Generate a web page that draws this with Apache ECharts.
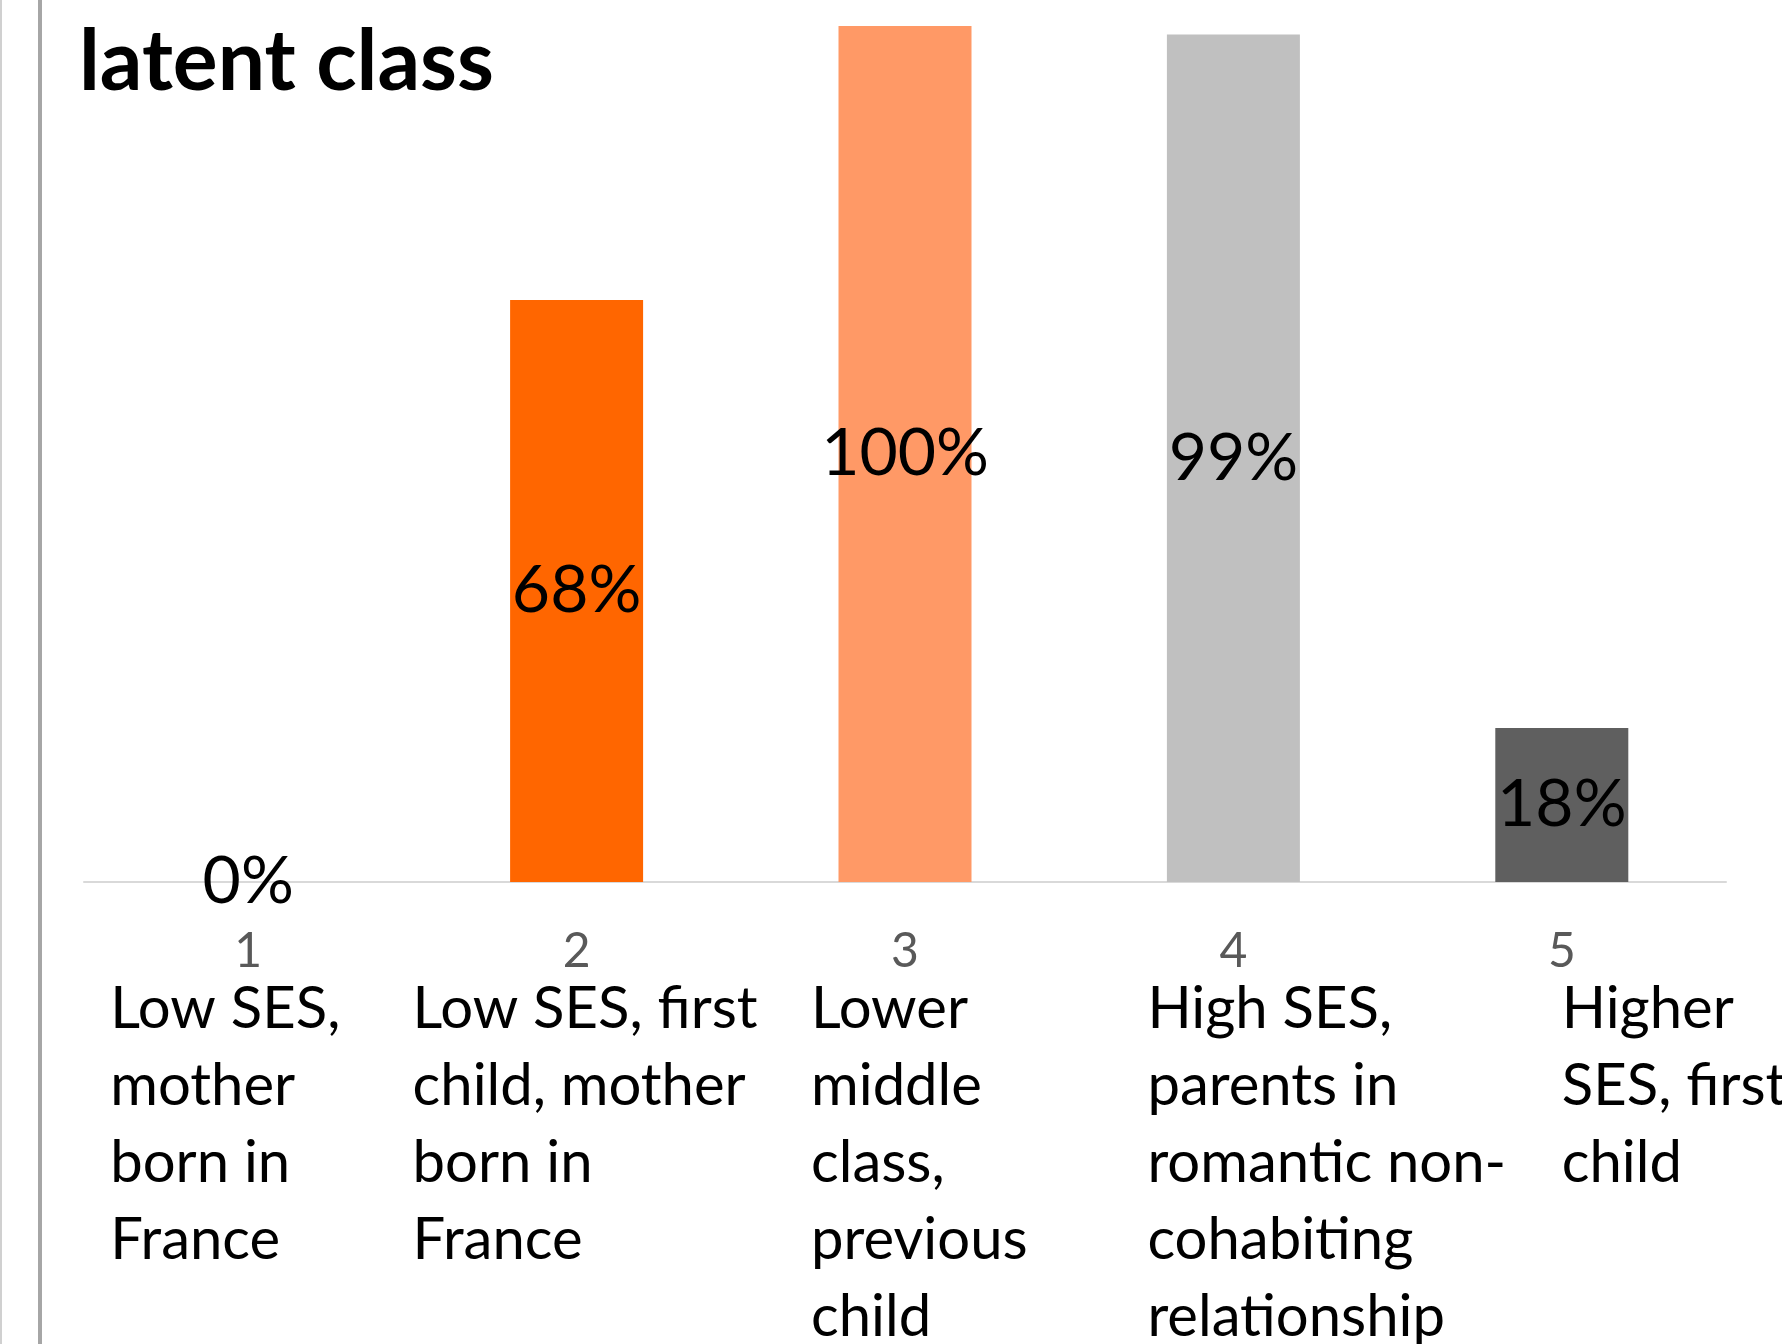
<!DOCTYPE html>
<html>
<head>
<meta charset="utf-8">
<script src="https://cdn.jsdelivr.net/npm/echarts@6/dist/echarts.min.js"></script>
<style>
  html, body { margin: 0; padding: 0; background: #fff; }
  #chart { width: 1782px; height: 1344px; }
</style>
</head>
<body>
<div id="chart"></div>
<script>
// latent class bars
const classes = ['1', '2', '3', '4', '5']
const shares = [0, 0.68, 1.00, 0.99, 0.18]
const classNames = [
  'Low SES,\nmother\nborn in\nFrance',
  'Low SES, first\nchild, mother\nborn in\nFrance',
  'Lower\nmiddle\nclass,\nprevious\nchild',
  'High SES,\nparents in\nromantic non-\ncohabiting\nrelationship',
  'Higher\nSES, first\nchild'
]
const barColors = ['#C55A11', '#FF6600', '#FF9966', '#C0C0C0', '#5F5F5F']

// where each description block starts, relative to its tick
const nameShift = [-138, -164, -94, -86, 0]

const font = 'Lato, "Open Sans", sans-serif'

const chart = echarts.init(document.getElementById('chart'))

const option = {
  animation: false,
  backgroundColor: '#fff',
  title: {
    text: 'latent class',
    left: 74,
    top: 16,
    textStyle: { fontFamily: font, fontWeight: 'bold', fontSize: 84, color: '#000' }
  },
  grid: { left: 84, right: 56, top: 26, bottom: 462, containLabel: false },
  xAxis: {
    type: 'category',
    data: classes,
    axisLine: { lineStyle: { color: '#d9d9d9', width: 2 } },
    axisTick: { show: false },
    axisLabel: { margin: 46, fontFamily: font, fontSize: 48, color: '#595959' }
  },
  yAxis: {
    type: 'value',
    min: 0,
    max: 1,
    show: false,
    splitLine: { show: false }
  },
  series: [{
    type: 'bar',
    barWidth: '40.5%',
    data: shares.map((v, i) => ({ value: v, itemStyle: { color: barColors[i] } })),
    label: {
      show: true,
      position: 'inside',
      fontFamily: font,
      fontSize: 66,
      color: '#000',
      formatter: p => Math.round(p.value * 100) + '%'
    }
  }]
}

chart.setOption(option)

const graphics = [
  { type: 'rect', shape: { x: 0, y: 0, width: 2, height: 1344 }, style: { fill: '#d0d0d0' }, silent: true },
  { type: 'rect', shape: { x: 38, y: 0, width: 4, height: 1344 }, style: { fill: '#a6a6a6' }, silent: true }
]
classes.forEach((c, i) => {
  const x = chart.convertToPixel({ xAxisIndex: 0 }, c)
  graphics.push({
    type: 'text',
    x: x + nameShift[i],
    y: 971,
    style: {
      text: classNames[i],
      fontFamily: font,
      fontSize: 58,
      lineHeight: 77,
      fill: '#000',
      align: 'left',
      verticalAlign: 'top'
    },
    silent: true
  })
})
chart.setOption({ graphic: graphics })
</script>
</body>
</html>
